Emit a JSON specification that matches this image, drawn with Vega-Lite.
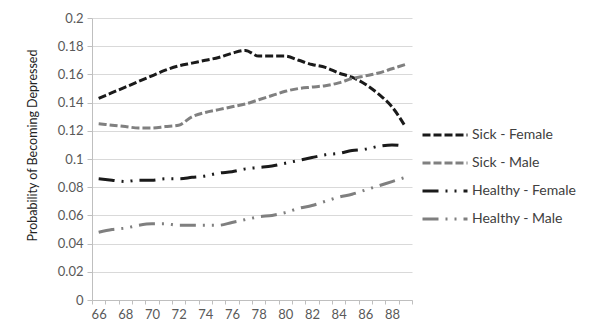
{
  "$schema": "https://vega.github.io/schema/vega-lite/v6.json",
  "autosize": "none",
  "width": 320,
  "height": 282,
  "padding": {"left": 92, "top": 18, "right": 188, "bottom": 31},
  "background": "white",
  "config": {
    "view": {"stroke": null},
    "font": "Lato",
    "axis": {"labelFont": "Lato", "titleFont": "Lato"},
    "legend": {"labelFont": "Lato"}
  },
  "datasets": {
    "rows": [
      {"age": 66, "series": "Sick - Female", "p": 0.143},
      {"age": 67, "series": "Sick - Female", "p": 0.147},
      {"age": 68, "series": "Sick - Female", "p": 0.151},
      {"age": 69, "series": "Sick - Female", "p": 0.155},
      {"age": 70, "series": "Sick - Female", "p": 0.159},
      {"age": 71, "series": "Sick - Female", "p": 0.163},
      {"age": 72, "series": "Sick - Female", "p": 0.166},
      {"age": 73, "series": "Sick - Female", "p": 0.168},
      {"age": 74, "series": "Sick - Female", "p": 0.170},
      {"age": 75, "series": "Sick - Female", "p": 0.172},
      {"age": 76, "series": "Sick - Female", "p": 0.175},
      {"age": 77, "series": "Sick - Female", "p": 0.177},
      {"age": 78, "series": "Sick - Female", "p": 0.173},
      {"age": 79, "series": "Sick - Female", "p": 0.173},
      {"age": 80, "series": "Sick - Female", "p": 0.173},
      {"age": 81, "series": "Sick - Female", "p": 0.170},
      {"age": 82, "series": "Sick - Female", "p": 0.167},
      {"age": 83, "series": "Sick - Female", "p": 0.165},
      {"age": 84, "series": "Sick - Female", "p": 0.161},
      {"age": 85, "series": "Sick - Female", "p": 0.158},
      {"age": 86, "series": "Sick - Female", "p": 0.153},
      {"age": 87, "series": "Sick - Female", "p": 0.146},
      {"age": 88, "series": "Sick - Female", "p": 0.137},
      {"age": 89, "series": "Sick - Female", "p": 0.123},
      {"age": 66, "series": "Sick - Male", "p": 0.125},
      {"age": 67, "series": "Sick - Male", "p": 0.124},
      {"age": 68, "series": "Sick - Male", "p": 0.123},
      {"age": 69, "series": "Sick - Male", "p": 0.122},
      {"age": 70, "series": "Sick - Male", "p": 0.122},
      {"age": 71, "series": "Sick - Male", "p": 0.123},
      {"age": 72, "series": "Sick - Male", "p": 0.124},
      {"age": 73, "series": "Sick - Male", "p": 0.130},
      {"age": 74, "series": "Sick - Male", "p": 0.133},
      {"age": 75, "series": "Sick - Male", "p": 0.135},
      {"age": 76, "series": "Sick - Male", "p": 0.137},
      {"age": 77, "series": "Sick - Male", "p": 0.139},
      {"age": 78, "series": "Sick - Male", "p": 0.142},
      {"age": 79, "series": "Sick - Male", "p": 0.145},
      {"age": 80, "series": "Sick - Male", "p": 0.148},
      {"age": 81, "series": "Sick - Male", "p": 0.150},
      {"age": 82, "series": "Sick - Male", "p": 0.151},
      {"age": 83, "series": "Sick - Male", "p": 0.152},
      {"age": 84, "series": "Sick - Male", "p": 0.154},
      {"age": 85, "series": "Sick - Male", "p": 0.157},
      {"age": 86, "series": "Sick - Male", "p": 0.159},
      {"age": 87, "series": "Sick - Male", "p": 0.161},
      {"age": 88, "series": "Sick - Male", "p": 0.164},
      {"age": 89, "series": "Sick - Male", "p": 0.167},
      {"age": 66, "series": "Healthy - Female", "p": 0.086},
      {"age": 67, "series": "Healthy - Female", "p": 0.085},
      {"age": 68, "series": "Healthy - Female", "p": 0.084},
      {"age": 69, "series": "Healthy - Female", "p": 0.085},
      {"age": 70, "series": "Healthy - Female", "p": 0.085},
      {"age": 71, "series": "Healthy - Female", "p": 0.086},
      {"age": 72, "series": "Healthy - Female", "p": 0.086},
      {"age": 73, "series": "Healthy - Female", "p": 0.087},
      {"age": 74, "series": "Healthy - Female", "p": 0.088},
      {"age": 75, "series": "Healthy - Female", "p": 0.090},
      {"age": 76, "series": "Healthy - Female", "p": 0.091},
      {"age": 77, "series": "Healthy - Female", "p": 0.093},
      {"age": 78, "series": "Healthy - Female", "p": 0.094},
      {"age": 79, "series": "Healthy - Female", "p": 0.095},
      {"age": 80, "series": "Healthy - Female", "p": 0.097},
      {"age": 81, "series": "Healthy - Female", "p": 0.099},
      {"age": 82, "series": "Healthy - Female", "p": 0.101},
      {"age": 83, "series": "Healthy - Female", "p": 0.103},
      {"age": 84, "series": "Healthy - Female", "p": 0.104},
      {"age": 85, "series": "Healthy - Female", "p": 0.106},
      {"age": 86, "series": "Healthy - Female", "p": 0.107},
      {"age": 87, "series": "Healthy - Female", "p": 0.109},
      {"age": 88, "series": "Healthy - Female", "p": 0.110},
      {"age": 89, "series": "Healthy - Female", "p": 0.109},
      {"age": 66, "series": "Healthy - Male", "p": 0.048},
      {"age": 67, "series": "Healthy - Male", "p": 0.050},
      {"age": 68, "series": "Healthy - Male", "p": 0.051},
      {"age": 69, "series": "Healthy - Male", "p": 0.053},
      {"age": 70, "series": "Healthy - Male", "p": 0.054},
      {"age": 71, "series": "Healthy - Male", "p": 0.054},
      {"age": 72, "series": "Healthy - Male", "p": 0.053},
      {"age": 73, "series": "Healthy - Male", "p": 0.053},
      {"age": 74, "series": "Healthy - Male", "p": 0.053},
      {"age": 75, "series": "Healthy - Male", "p": 0.053},
      {"age": 76, "series": "Healthy - Male", "p": 0.055},
      {"age": 77, "series": "Healthy - Male", "p": 0.057},
      {"age": 78, "series": "Healthy - Male", "p": 0.059},
      {"age": 79, "series": "Healthy - Male", "p": 0.060},
      {"age": 80, "series": "Healthy - Male", "p": 0.062},
      {"age": 81, "series": "Healthy - Male", "p": 0.065},
      {"age": 82, "series": "Healthy - Male", "p": 0.067},
      {"age": 83, "series": "Healthy - Male", "p": 0.070},
      {"age": 84, "series": "Healthy - Male", "p": 0.073},
      {"age": 85, "series": "Healthy - Male", "p": 0.075},
      {"age": 86, "series": "Healthy - Male", "p": 0.078},
      {"age": 87, "series": "Healthy - Male", "p": 0.081},
      {"age": 88, "series": "Healthy - Male", "p": 0.084},
      {"age": 89, "series": "Healthy - Male", "p": 0.087}
    ]
  },
  "data": {"name": "rows"},
  "mark": {"type": "line", "interpolate": "monotone"},
  "encoding": {
    "x": {
      "field": "age",
      "type": "quantitative",
      "scale": {"domain": [65.5, 89.5], "zero": false, "nice": false},
      "axis": {
        "title": null,
        "grid": false,
        "values": [65.5, 66.5, 67.5, 68.5, 69.5, 70.5, 71.5, 72.5, 73.5, 74.5, 75.5, 76.5, 77.5, 78.5, 79.5, 80.5, 81.5, 82.5, 83.5, 84.5, 85.5, 86.5, 87.5, 88.5, 89.5],
        "labelExpr": "((datum.value + 0.5) % 2 == 0 && datum.value < 89) ? toString(datum.value + 0.5) : ''",
        "labelOffset": 6.67,
        "labelOverlap": false,
        "labelFlush": false,
        "labelFontSize": 13,
        "labelColor": "#595959",
        "labelPadding": 4,
        "domainColor": "#bfbfbf",
        "tickColor": "#bfbfbf",
        "tickSize": 4
      }
    },
    "y": {
      "field": "p",
      "type": "quantitative",
      "scale": {"domain": [0, 0.2], "nice": false},
      "axis": {
        "title": "Probability of Becoming Depressed",
        "titleFontSize": 12.5,
        "titleFontWeight": "normal",
        "titleColor": "#222222",
        "titleX": -53,
        "titleY": 127,
        "values": [0, 0.02, 0.04, 0.06, 0.08, 0.1, 0.12, 0.14, 0.16, 0.18, 0.2],
        "format": "~g",
        "labelFontSize": 13,
        "labelColor": "#595959",
        "labelPadding": 4,
        "gridColor": "#d9d9d9",
        "domainColor": "#bfbfbf",
        "tickColor": "#bfbfbf",
        "tickSize": 5
      }
    },
    "color": {
      "field": "series",
      "type": "nominal",
      "scale": {
        "domain": ["Sick - Female", "Sick - Male", "Healthy - Female", "Healthy - Male"],
        "range": ["#1a1a1a", "#808080", "#1a1a1a", "#7f7f7f"]
      },
      "legend": {
        "title": null,
        "orient": "none",
        "legendX": 344,
        "legendY": 108,
        "symbolType": "M-3,0H3",
        "symbolSize": 225,
        "symbolFillColor": "transparent",
        "labelFontSize": 14,
        "labelColor": "#404040",
        "labelOffset": 18,
        "rowPadding": 12
      }
    },
    "strokeDash": {
      "field": "series",
      "type": "nominal",
      "scale": {
        "domain": ["Sick - Female", "Sick - Male", "Healthy - Female", "Healthy - Male"],
        "range": [[8, 3], [8, 3], [16, 7, 2, 7, 2, 7], [16, 7, 2, 7, 2, 7]]
      },
      "legend": null
    },
    "strokeWidth": {
      "field": "series",
      "type": "nominal",
      "scale": {
        "domain": ["Sick - Female", "Sick - Male", "Healthy - Female", "Healthy - Male"],
        "range": [3, 3, 2.2, 2.2]
      },
      "legend": null
    }
  }
}
